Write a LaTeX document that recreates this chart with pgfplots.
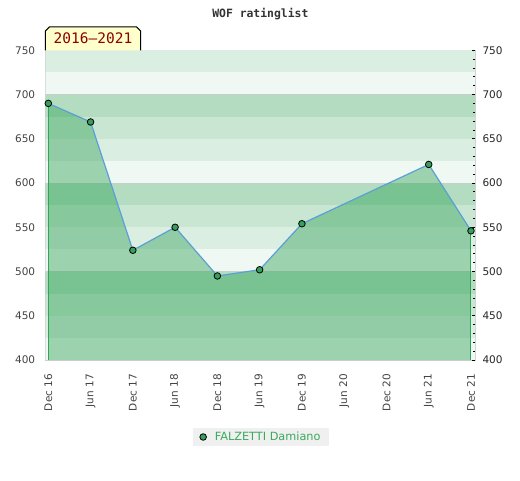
\documentclass[border=0pt]{standalone}
\usepackage{pgfplots}
\pgfplotsset{compat=1.18}
\usepackage{fontspec}
\setmainfont{DejaVu Sans}
\setmonofont{DejaVu Sans Mono}
\definecolor{bandD}{HTML}{B3DCC1}
\definecolor{bandM}{HTML}{C9E6D3}
\definecolor{bandL}{HTML}{DBEEE2}
\definecolor{bandW}{HTML}{EFF8F2}
\definecolor{fillgreen}{RGB}{36,155,76}
\definecolor{edgegreen}{HTML}{2EA655}
\definecolor{lineblue}{HTML}{5AA0D6}
\definecolor{markgreen}{HTML}{34A05C}
\definecolor{axisgray}{HTML}{D0D0D0}
\definecolor{gridgray}{HTML}{C8CFCA}
\definecolor{labelgray}{HTML}{444444}
\definecolor{legendbg}{HTML}{F0F0F0}
\definecolor{legendgreen}{HTML}{3AAA5C}
\definecolor{boxred}{HTML}{8B0000}
\definecolor{boxfill}{HTML}{FFFFCC}
\pgfplotstableread{
x y
0 690
6 669
12 524
18 550
24 495
30 502
36 554
54 621
60 546
}\ratings
\begin{document}
\begin{tikzpicture}
\path[use as bounding box] (0,0) rectangle (520pt,480pt);
\begin{axis}[
  name=ax,
  at={(45.7pt,120pt)}, anchor=south west,
  scale only axis, width=429.3pt, height=309.7pt,
  xmin=-0.37, xmax=60.57, ymin=400, ymax=750,
  axis line style={draw=axisgray, line width=1pt},
  /pgf/number format/assume math mode=true,
  xtick={0,6,...,60},
  xticklabels={Dec 16,Jun 17,Dec 17,Jun 18,Dec 18,Jun 19,Dec 19,Jun 20,Dec 20,Jun 21,Dec 21},
  xticklabel style={rotate=90, anchor=east, font=\fontsize{10.5}{12}\selectfont, text=labelgray},
  xticklabel shift=10.5pt,
  ytick={400,450,...,750},
  yticklabel style={font=\fontsize{10.5}{12}\selectfont, text=labelgray},
  yticklabel shift=7pt,
  tick style={draw=none},
  title={WOF ratinglist},
  title style={at={(0.5,1)}, anchor=center, yshift=30pt, font=\ttfamily\bfseries\fontsize{11.4}{13}\selectfont, text=black!80},
  legend style={at={(0.5015,-0.2486)}, anchor=center, fill=legendbg, draw=none,
    font=\fontsize{11.3}{13}\selectfont, text=legendgreen, inner xsep=6pt, inner ysep=2pt,
    /tikz/every odd column/.append style={column sep=6pt}},
]
% background bands
\addplot[draw=none, fill=bandW, forget plot] coordinates {(-1,400)(61,400)(61,425)(-1,425)} -- cycle;
\addplot[draw=none, fill=bandL, forget plot] coordinates {(-1,425)(61,425)(61,450)(-1,450)} -- cycle;
\addplot[draw=none, fill=bandM, forget plot] coordinates {(-1,450)(61,450)(61,475)(-1,475)} -- cycle;
\addplot[draw=none, fill=bandD, forget plot] coordinates {(-1,475)(61,475)(61,500)(-1,500)} -- cycle;
\addplot[draw=none, fill=bandW, forget plot] coordinates {(-1,500)(61,500)(61,525)(-1,525)} -- cycle;
\addplot[draw=none, fill=bandL, forget plot] coordinates {(-1,525)(61,525)(61,550)(-1,550)} -- cycle;
\addplot[draw=none, fill=bandM, forget plot] coordinates {(-1,550)(61,550)(61,575)(-1,575)} -- cycle;
\addplot[draw=none, fill=bandD, forget plot] coordinates {(-1,575)(61,575)(61,600)(-1,600)} -- cycle;
\addplot[draw=none, fill=bandW, forget plot] coordinates {(-1,600)(61,600)(61,625)(-1,625)} -- cycle;
\addplot[draw=none, fill=bandL, forget plot] coordinates {(-1,625)(61,625)(61,650)(-1,650)} -- cycle;
\addplot[draw=none, fill=bandM, forget plot] coordinates {(-1,650)(61,650)(61,675)(-1,675)} -- cycle;
\addplot[draw=none, fill=bandD, forget plot] coordinates {(-1,675)(61,675)(61,700)(-1,700)} -- cycle;
\addplot[draw=none, fill=bandW, forget plot] coordinates {(-1,700)(61,700)(61,725)(-1,725)} -- cycle;
\addplot[draw=none, fill=bandL, forget plot] coordinates {(-1,725)(61,725)(61,750)(-1,750)} -- cycle;
% grid lines
\addplot[gridgray, line width=1pt, forget plot] coordinates {(-1,500)(61,500)};
\addplot[gridgray, line width=1pt, forget plot] coordinates {(-1,600)(61,600)};
\addplot[gridgray, line width=1pt, forget plot] coordinates {(-1,700)(61,700)};
% area
\addplot[draw=none, fill=fillgreen, fill opacity=0.4, forget plot]
  coordinates {(0,400)(0,690)(6,669)(12,524)(18,550)(24,495)(30,502)(36,554)(54,621)(60,546)(60,400)} -- cycle;
\addplot[edgegreen, line width=1pt, forget plot] coordinates {(0,400)(0,690)};
\addplot[edgegreen, line width=1pt, forget plot] coordinates {(60,400)(60,546)};
% line with marks
\addplot[color=lineblue, line width=1.2pt, mark=*, mark size=3.3pt,
  mark options={fill=markgreen, draw=black, line width=0.8pt}, forget plot] table[x=x,y=y] {\ratings};
\addlegendimage{legend image code/.code={\draw[fill=markgreen, draw=black, line width=0.8pt] (0pt,0pt) circle (3.3pt);}}
\addlegendentry{FALZETTI Damiano}
\end{axis}
\begin{axis}[
  at={(45.7pt,120pt)}, anchor=south west,
  scale only axis, width=429.3pt, height=309.7pt,
  xmin=-0.37, xmax=60.57, ymin=400, ymax=750,
  hide x axis,
  axis y line*=right,
  y axis line style={draw=none},
  /pgf/number format/assume math mode=true,
  ytick={400,450,...,750},
  minor y tick num=4,
  tick align=inside,
  major tick length=3pt, minor tick length=2.5pt,
  tick style={draw=black, line width=0.8pt},
  yticklabel style={font=\fontsize{10.5}{12}\selectfont, text=black!85},
  yticklabel shift=4pt,
]
\end{axis}
\draw[shift={(ax.north west)}, fill=boxfill, draw=black, line width=1pt]
  (-0.4pt,0) -- ++(0,19.3pt) -- ++(4pt,4pt) -- ++(87.4pt,0) -- ++(4pt,-4pt) -- ++(0,-19.3pt);
\node[anchor=center, text=boxred, font=\ttfamily\fontsize{14.5}{16}\selectfont, inner sep=0pt]
  at ([shift={(47.3pt,11.8pt)}]ax.north west) {2016–2021};
\end{tikzpicture}
\end{document}
